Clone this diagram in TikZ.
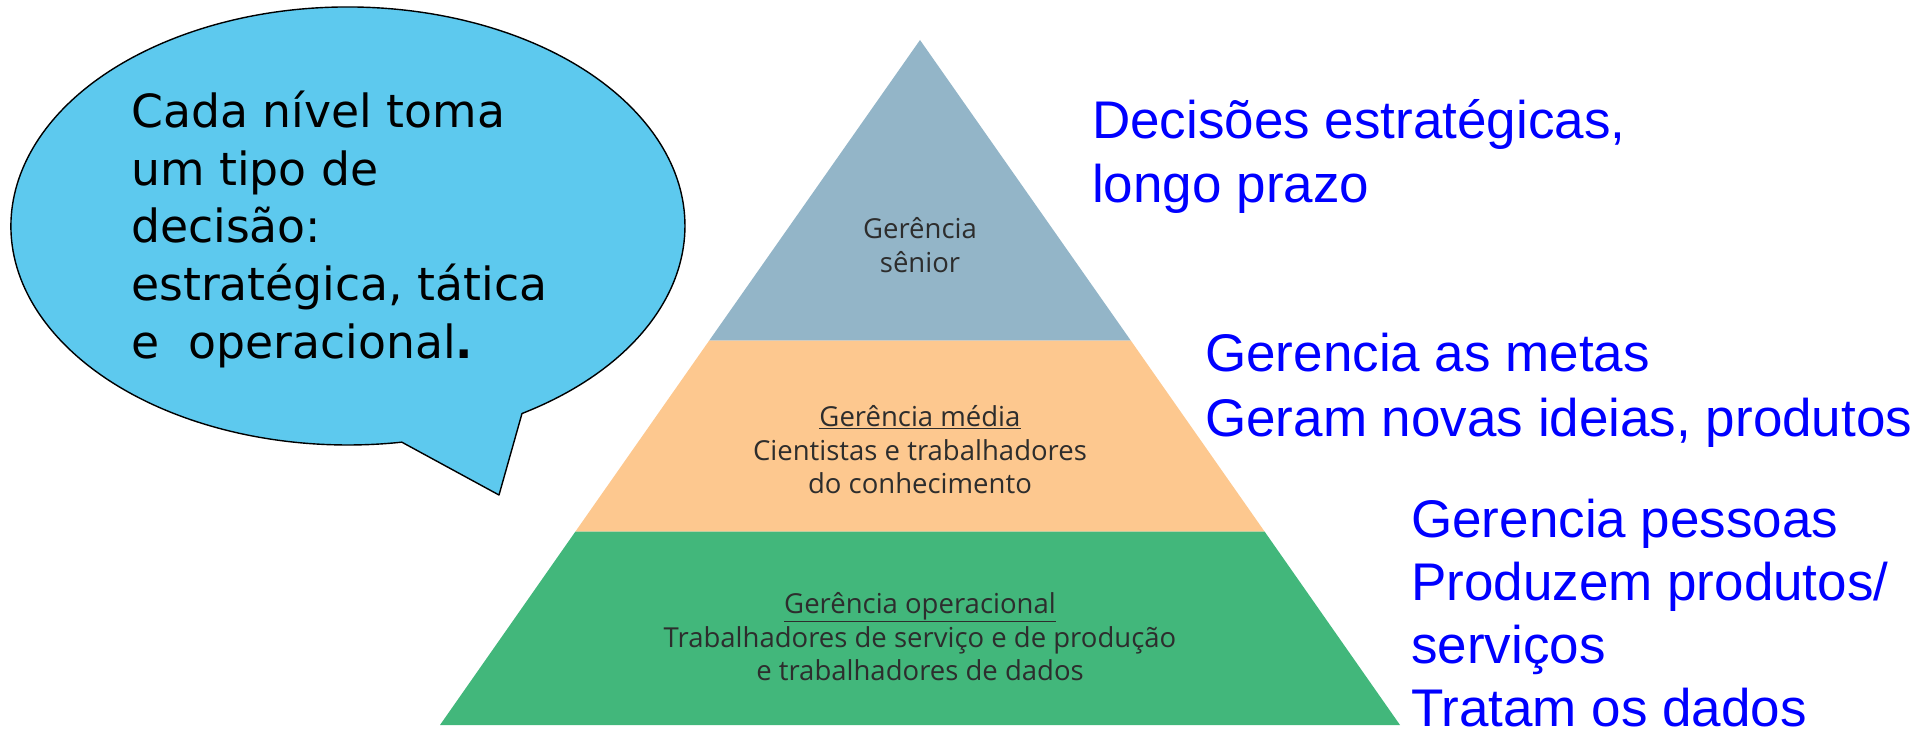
\documentclass[tikz,border=0pt]{standalone}
\usepackage{fontspec}
\setmainfont{Liberation Sans}
\newfontfamily\calloutfont{DejaVu Sans}
\newfontfamily\pyrfont{Open Sans}
\newfontfamily\notefont{Liberation Sans}
\definecolor{bubble}{RGB}{93,201,238}
\definecolor{tierA}{RGB}{147,181,200}
\definecolor{tierB}{RGB}{253,200,143}
\definecolor{tierC}{RGB}{66,183,123}
\definecolor{pyrtext}{RGB}{45,45,45}
\definecolor{note}{RGB}{0,0,255}
\tikzset{
  bubblestyle/.style={fill=bubble, draw=black, line width=1.4pt, line join=round},
  calltext/.style={anchor=base west, inner sep=0pt, font=\calloutfont\fontsize{45.7}{57.6}\selectfont, text=black},
  pyrtxt/.style={anchor=base, inner sep=0pt, font=\pyrfont\fontsize{27.5}{33}\selectfont, text=pyrtext},
  notetxt/.style={anchor=base west, inner sep=0pt, font=\notefont\fontsize{53}{64}\selectfont, text=note}
}
\begin{document}
\begin{tikzpicture}[x=1pt,y=-1pt]
\useasboundingbox (0,0) rectangle (1921,738);
% pyramid
\coordinate (apex) at (920,40);
\coordinate (l1) at (709.1,340.7);
\coordinate (r1) at (1130.9,340.7);
\coordinate (l2) at (575.3,531.7);
\coordinate (r2) at (1264.7,531.7);
\coordinate (l3) at (440,725);
\coordinate (r3) at (1400,725);
\fill[tierA] (apex) -- (l1) -- (r1) -- cycle;
\fill[tierB] (l1) -- (l2) -- (r2) -- (r1) -- cycle;
\fill[tierC] (l2) -- (l3) -- (r3) -- (r2) -- cycle;
% pyramid texts
\node[pyrtxt] (s1) at (920,238) {Gerência};
\node[pyrtxt] (s2) at (920,272) {sênior};
\node[pyrtxt] (m1) at (920,426.7) {\underline{Gerência média}};
\node[pyrtxt] (m2) at (920,460) {Cientistas e trabalhadores};
\node[pyrtxt] (m3) at (920,493) {do conhecimento};
\node[pyrtxt] (o1) at (920,613) {\underline{Gerência operacional}};
\node[pyrtxt] (o2) at (920,647) {Trabalhadores de serviço e de produção};
\node[pyrtxt] (o3) at (920,680) {e trabalhadores de dados};
% callout bubble
\draw[bubblestyle] (522,413.5) arc[start angle=58.9, end angle=-279.2, x radius=337, y radius=219] -- (499,495) -- cycle;
\node[calltext] (c1) at (131,127.7) {Cada nível toma};
\node[calltext] (c2) at (131,185.3) {um tipo de};
\node[calltext] (c3) at (131,242.9) {decisão:};
\node[calltext] (c4) at (131,300.5) {estratégica, tática};
\node[calltext] (c5) at (131,358.1) {e\ \ operacional\textbf{.}};
% right notes
\node[notetxt] (n1) at (1092,138.3) {Decisões estratégicas,};
\node[notetxt] (n2) at (1092,202.7) {longo prazo};
\node[notetxt] (n3) at (1205,371.7) {Gerencia as metas};
\node[notetxt] (n4) at (1205,436) {Geram novas ideias, produtos};
\node[notetxt] (n5) at (1411,537) {Gerencia pessoas};
\node[notetxt] (n6) at (1411,600) {Produzem produtos/};
\node[notetxt] (n7) at (1411,663) {serviços};
\node[notetxt] (n8) at (1411,726) {Tratam os dados};
\end{tikzpicture}
\end{document}
